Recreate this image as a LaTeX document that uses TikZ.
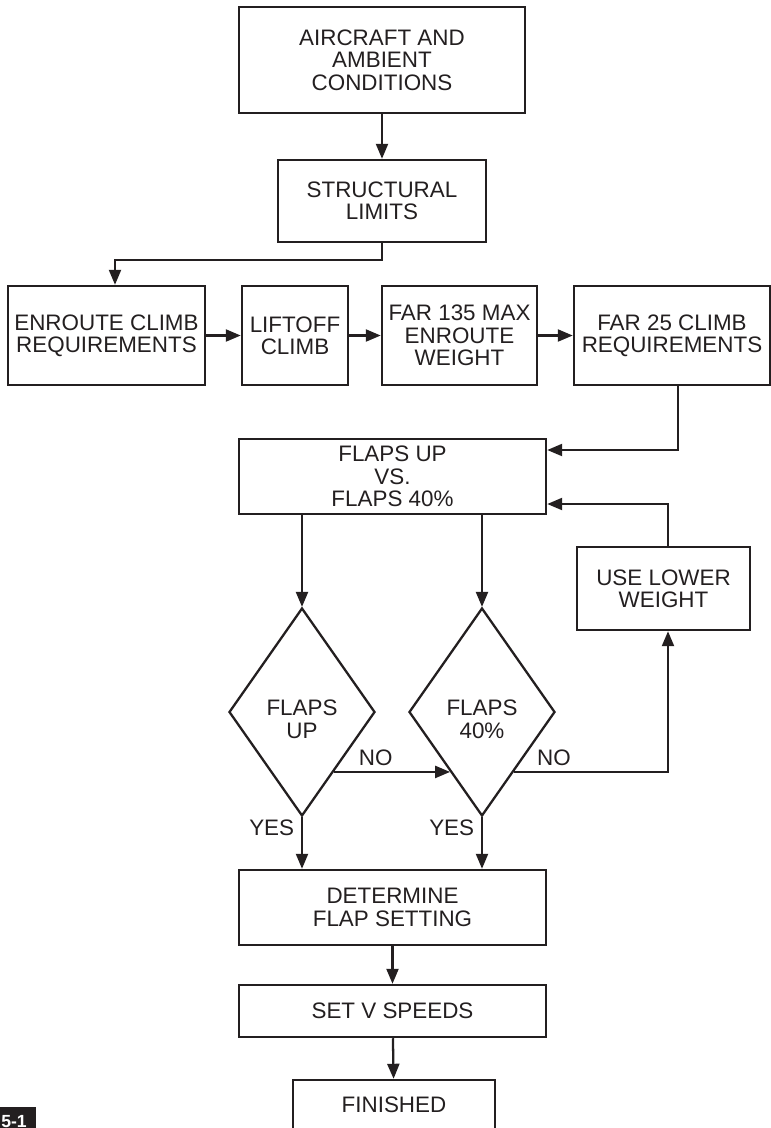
\documentclass[tikz,border=0pt]{standalone}
\usepackage{fontspec}
\setmainfont{Liberation Sans}
\usetikzlibrary{shapes.geometric, arrows.meta, calc}
\definecolor{ink}{RGB}{35,31,32}
\tikzset{
	txt/.style={font=\fontsize{12.75}{12.7}\selectfont, text=ink},
	blkbox/.style={txt, draw=ink, line width=1.4pt, rectangle, align=center, inner sep=2pt},
	dmdbox/.style={txt, draw=ink, line width=1.3pt, diamond, align=center, inner sep=0pt, minimum width=2.92cm, minimum height=4.16cm},
	arr/.style={draw=ink, line width=1.3pt, -{Triangle[length=0.3cm,width=0.24cm]}},
	lbl/.style={txt, inner sep=1pt}
}
\newcommand{\blk}[6]{\node[blkbox, minimum width=#4cm, minimum height=#5cm] (#1) at (#2,#3) {#6};}
\newcommand{\dmd}[4]{\node[dmdbox] (#1) at (#2,#3) {\rule{0pt}{0.6cm}#4};}

\begin{document}
\begin{tikzpicture}
		\useasboundingbox (0,0) rectangle (15.42,-22.56);
		\clip (0,0) rectangle (15.42,-22.56);

		\blk{aircraft}{7.64}{-1.20}{5.72}{2.12}{AIRCRAFT AND\\AMBIENT\\CONDITIONS}
		\blk{structural}{7.64}{-4.02}{4.16}{1.64}{STRUCTURAL\\LIMITS}

		\blk{enroute}{2.13}{-6.71}{3.94}{1.98}{ENROUTE CLIMB\\REQUIREMENTS}
		\blk{liftoff}{5.90}{-6.71}{2.12}{1.98}{LIFTOFF\\CLIMB}
		\blk{far135}{9.19}{-6.71}{3.10}{1.98}{FAR 135 MAX\\ENROUTE\\WEIGHT}
		\blk{far25}{13.44}{-6.71}{3.92}{1.98}{FAR 25 CLIMB\\REQUIREMENTS}

		\blk{compare}{7.85}{-9.53}{6.14}{1.50}{FLAPS UP\\VS.\\FLAPS 40\%}
		\blk{uselower}{13.27}{-11.77}{3.46}{1.66}{USE LOWER\\WEIGHT}

		\dmd{d1}{6.04}{-14.24}{FLAPS\\UP}
		\dmd{d2}{9.64}{-14.24}{FLAPS\\40\%}

		\blk{determine}{7.85}{-18.15}{6.14}{1.50}{DETERMINE\\FLAP SETTING}
		\blk{setv}{7.85}{-20.22}{6.14}{1.04}{SET V SPEEDS}
		\blk{finished}{7.88}{-22.10}{4.04}{1.00}{FINISHED}

		\coordinate (bend1) at (2.30,-5.20);
		\coordinate (bend2) at (13.56,-9.00);
		\coordinate (bend3) at (13.36,-10.08);
		\coordinate (out1) at ($(d1.east)!0.57!(d1.south)$);
		\coordinate (in2) at ($(d2.west)!0.57!(d2.south)$);
		\coordinate (out2) at ($(d2.east)!0.57!(d2.south)$);

		\draw[arr] (aircraft) -- (structural);
		\draw[arr] (structural.south) |- (bend1) -- (bend1 |- enroute.north);
		\draw[arr] (enroute) -- (liftoff);
		\draw[arr] (liftoff) -- (far135);
		\draw[arr] (far135) -- (far25);
		\draw[arr] (bend2 |- far25.south) -- (bend2) -- (bend2 -| compare.east);
		\draw[arr] (bend3 |- uselower.north) -- (bend3) -- (bend3 -| compare.east);

		\draw[arr] (compare.south -| d1.north) -- (d1.north);
		\draw[arr] (compare.south -| d2.north) -- (d2.north);
		\draw[arr] (out1) -- node[lbl, pos=.36, above, inner sep=3pt] (no1) {NO} (in2);
		\draw[arr] (out2) -| node[lbl, pos=.13, above, inner sep=3pt] (no2) {NO} (bend3 |- uselower.south);
		\draw[arr] (d1.south) node[lbl, below left, xshift=-0.1cm] (yes1) {YES} -- (d1.south |- determine.north);
		\draw[arr] (d2.south) node[lbl, below left, xshift=-0.1cm] (yes2) {YES} -- (d2.south |- determine.north);

		\draw[arr] (determine) -- (setv);
		\draw[arr] (setv) -- (finished);

		\fill[ink] (0,-22.14) rectangle (0.72,-22.70);
		\node[anchor=base west, text=white, font=\fontsize{10}{10}\bfseries\selectfont, inner sep=0pt] (fig) at (0.02,-22.54) {5-1};
	\end{tikzpicture}
\end{document}
